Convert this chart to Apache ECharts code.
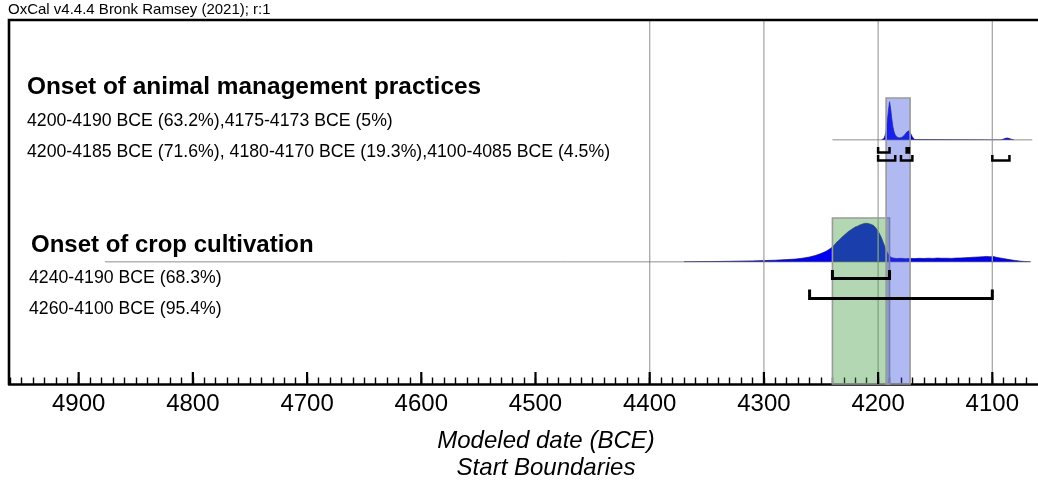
<!DOCTYPE html>
<html>
<head>
<meta charset="utf-8">
<script src="https://cdn.jsdelivr.net/npm/echarts@6/dist/echarts.min.js"></script>
<style>
  html, body { margin: 0; padding: 0; background: #ffffff; }
  #chart { width: 1038px; height: 483px; }
</style>
</head>
<body>
<div id="chart"></div>
<script>
// ---- Time axis (years BCE, older dates on the left) ----
const axisMinYear = 4060;
const axisMaxYear = 4961;
const majorTickYears = [4100, 4200, 4300, 4400, 4500, 4600, 4700, 4800, 4900];
const gridYears = [4400, 4300, 4200, 4100];

// ---- Onset of animal management practices: modelled probability density ----
const animalYears = [4197, 4196, 4195, 4194, 4193, 4192, 4191, 4190, 4189, 4188, 4187, 4186, 4185,
  4184, 4183, 4182, 4181, 4180, 4179, 4178, 4177, 4176, 4175, 4174, 4173, 4172, 4171, 4170, 4169,
  4168, 4167, 4093, 4091, 4089, 4087, 4085, 4083, 4081];
const animalDensity = [0, 0.5, 1.5, 4, 9, 18, 29, 38, 31, 21, 13, 8, 5,
  3.5, 2.6, 2.2, 2.1, 2.3, 2.8, 3.6, 4.8, 6.3, 7.8, 8.8, 9.2, 8, 5.5, 3, 1.3,
  0.4, 0, 0, 0.6, 1.5, 2, 1.5, 0.6, 0];
const animalSupport = [4240, 4065];
const animalSpan = [4193, 4172];
const animalRange68 = [[4200, 4190], [4175, 4173]];
const animalRange95 = [[4200, 4185], [4180, 4170], [4100, 4085]];

// ---- Onset of crop cultivation: modelled probability density ----
const cropYears = [4370, 4350, 4330, 4310, 4300, 4290, 4280, 4272, 4265, 4260, 4255, 4250, 4246,
  4243, 4240, 4238, 4236, 4234, 4232, 4230, 4228, 4226, 4224, 4222, 4220, 4218, 4216, 4215, 4214,
  4213, 4212, 4211, 4210, 4209, 4208, 4207, 4206, 4205, 4204, 4203, 4202, 4201, 4200, 4199, 4198,
  4197, 4196, 4195, 4194, 4193, 4192, 4191, 4190, 4189, 4188, 4186, 4184, 4180, 4176, 4172, 4168,
  4164, 4160, 4156, 4152, 4148, 4144, 4140, 4136, 4132, 4128, 4124, 4120, 4116, 4112, 4108, 4105,
  4102, 4099, 4096, 4092, 4088, 4084, 4080, 4076, 4072, 4068, 4066];
const cropDensity = [0.2, 0.4, 0.7, 1.1, 1.4, 1.8, 2.4, 3.0, 4.0, 5.0, 6.5, 8.5, 10.5,
  12.5, 15, 17.5, 20, 22, 24.5, 26.5, 28.5, 30.5, 32, 33.5, 35, 35.8, 37, 36.6, 37.8,
  37.3, 38.6, 37.9, 38.7, 37.8, 38.2, 37.4, 37.6, 36.3, 36.5, 35, 34, 32.3, 30.8, 28.8, 26.5,
  24, 21, 18, 15, 12, 9.5, 7.5, 6, 5, 4.3, 3.8, 3.5, 3.7, 3.3, 3.6, 3.4,
  3.7, 3.5, 3.8, 3.6, 3.9, 3.7, 3.8, 3.6, 3.9, 4.0, 4.2, 4.5, 4.8, 5.0, 5.3, 5.6,
  5.2, 5.4, 4.6, 3.8, 3.0, 2.2, 1.5, 0.9, 0.5, 0.2, 0];
const cropSupport = [4877, 4067];
const cropSpan = [4240, 4190];
const cropRange68 = [[4240, 4190]];
const cropRange95 = [[4260, 4100]];

// ---- Text ----
const headerText = 'OxCal v4.4.4 Bronk Ramsey (2021); r:1';
const animalTitle = 'Onset of animal management practices';
const animalText68 = '4200-4190 BCE (63.2%),4175-4173 BCE (5%)';
const animalText95 = '4200-4185 BCE (71.6%), 4180-4170 BCE (19.3%),4100-4085 BCE (4.5%)';
const cropTitle = 'Onset of crop cultivation';
const cropText68 = '4240-4190 BCE (68.3%)';
const cropText95 = '4260-4100 BCE (95.4%)';
const axisTitle1 = 'Modeled date (BCE)';
const axisTitle2 = 'Start Boundaries';

// ---- Layout ----
const FONT = '"Liberation Sans", Arial, Helvetica, sans-serif';
const W = 1038, H = 483;
const PLOT = { left: 9, right: 0, top: 20, bottom: 99 };
const AXIS_Y = H - PLOT.bottom;
const ANIMAL_ROW = { top: 98, height: 42, yMax: 41.7 };
const CROP_ROW = { top: 218, height: 44, yMax: 44 };
const ANIMAL_BRACKETS = [{ top: 147, bottom: 152.5, width: 2.5 }, { top: 155, bottom: 160.5, width: 2.5 }];
const CROP_BRACKETS = [{ top: 270, bottom: 278.5, width: 3 }, { top: 289.5, bottom: 298.5, width: 3 }];

const zip = (xs, ys) => xs.map((x, i) => [x, ys[i]]);
const pairs = list => list.map(r => [r[0], r[1]]);

function timeAxis(gridIndex, visible) {
  return {
    type: 'value', gridIndex, inverse: true, min: axisMinYear, max: axisMaxYear,
    interval: 10, show: visible,
    axisLine: { show: visible, lineStyle: { color: '#000', width: 2.6 } },
    axisTick: { show: visible, inside: true, length: 6.5, lineStyle: { color: '#000', width: 1.4 } },
    axisLabel: {
      show: visible, margin: 8, color: '#000', fontFamily: FONT, fontSize: 24,
      showMinLabel: false, showMaxLabel: false,
      formatter: v => (v % 100 === 0 ? String(v) : '')
    },
    splitLine: { show: false }
  };
}

function densitySeries(idx, years, dens) {
  return {
    type: 'line', xAxisIndex: idx, yAxisIndex: idx, data: zip(years, dens),
    symbol: 'none', smooth: false, silent: true, z: 2,
    lineStyle: { color: '#101070', width: 0.7 },
    areaStyle: { color: '#0000f2', opacity: 1 }
  };
}

function baselineSeries(idx, support) {
  return {
    type: 'line', xAxisIndex: idx, yAxisIndex: idx, data: [[support[0], 0], [support[1], 0]],
    symbol: 'none', silent: true, z: 4,
    lineStyle: { color: '#6a6a6a', width: 1 }
  };
}

function boxSeries(span, topPx, fill) {
  return {
    type: 'custom', xAxisIndex: 0, yAxisIndex: 0, data: [[span[0], span[1]]], z: 5, silent: true,
    renderItem: (params, api) => {
      const a = api.coord([api.value(0), 0]);
      const b = api.coord([api.value(1), 0]);
      return {
        type: 'rect',
        shape: { x: Math.min(a[0], b[0]), y: topPx, width: Math.abs(b[0] - a[0]), height: a[1] - topPx },
        style: { fill, stroke: '#9a9a9a', lineWidth: 1.6 }
      };
    }
  };
}

function bracketSeries(ranges, row) {
  return {
    type: 'custom', xAxisIndex: 0, yAxisIndex: 0, data: pairs(ranges), z: 7, silent: true,
    renderItem: (params, api) => {
      const x1 = api.coord([api.value(0), 0])[0];
      const x2 = api.coord([api.value(1), 0])[0];
      return {
        type: 'polyline',
        shape: { points: [[x1, row.top], [x1, row.bottom], [x2, row.bottom], [x2, row.top]] },
        style: { stroke: '#000', fill: null, lineWidth: row.width, lineJoin: 'miter', lineCap: 'butt' }
      };
    }
  };
}

const gridLineSeries = {
  type: 'custom', xAxisIndex: 0, yAxisIndex: 0, data: gridYears.map(v => [v, 0]), z: 4, silent: true,
  renderItem: (params, api) => {
    const p0 = api.coord([api.value(0), 0]);
    const p1 = api.coord([api.value(0), 1]);
    return { type: 'line', shape: { x1: p0[0], y1: p0[1], x2: p1[0], y2: p1[1] },
             style: { stroke: '#a8a8a8', lineWidth: 1.3 } };
  }
};

const majorTickSeries = {
  type: 'custom', xAxisIndex: 0, yAxisIndex: 0, data: majorTickYears.map(v => [v, 0]), z: 8, silent: true,
  renderItem: (params, api) => {
    const p = api.coord([api.value(0), 0]);
    return { type: 'line', shape: { x1: p[0], y1: p[1], x2: p[0], y2: p[1] - 12 },
             style: { stroke: '#000', lineWidth: 2.2 } };
  }
};

function text(str, x, y, font, align) {
  return {
    type: 'text', x, y, silent: true, z: 10,
    style: { text: str, font, fill: '#000', align: align || 'left', textAlign: align || 'left',
             verticalAlign: 'middle', textVerticalAlign: 'middle' }
  };
}

const chart = echarts.init(document.getElementById('chart'), null, { renderer: 'canvas' });
chart.setOption({
  backgroundColor: '#ffffff',
  animation: false,
  grid: [
    { left: PLOT.left, right: PLOT.right, top: PLOT.top, bottom: PLOT.bottom },
    { left: PLOT.left, right: PLOT.right, top: ANIMAL_ROW.top, height: ANIMAL_ROW.height },
    { left: PLOT.left, right: PLOT.right, top: CROP_ROW.top, height: CROP_ROW.height }
  ],
  xAxis: [timeAxis(0, true), timeAxis(1, false), timeAxis(2, false)],
  yAxis: [
    { type: 'value', gridIndex: 0, min: 0, max: 1, show: false },
    { type: 'value', gridIndex: 1, min: 0, max: ANIMAL_ROW.yMax, show: false },
    { type: 'value', gridIndex: 2, min: 0, max: CROP_ROW.yMax, show: false }
  ],
  series: [
    densitySeries(1, animalYears, animalDensity),
    baselineSeries(1, animalSupport),
    densitySeries(2, cropYears, cropDensity),
    baselineSeries(2, cropSupport),
    gridLineSeries,
    boxSeries(cropSpan, CROP_ROW.top, 'rgba(64,156,64,0.40)'),
    boxSeries(animalSpan, ANIMAL_ROW.top, 'rgba(60,80,225,0.40)'),
    bracketSeries(animalRange68, ANIMAL_BRACKETS[0]),
    bracketSeries(animalRange95, ANIMAL_BRACKETS[1]),
    bracketSeries(cropRange68, CROP_BRACKETS[0]),
    bracketSeries(cropRange95, CROP_BRACKETS[1]),
    majorTickSeries
  ],
  graphic: [
    { type: 'polyline', silent: true, z: 9,
      shape: { points: [[PLOT.left, AXIS_Y], [PLOT.left, PLOT.top], [W, PLOT.top]] },
      style: { stroke: '#000', lineWidth: 2.6, fill: null } },
    text(headerText, 8, 10, '15px ' + FONT),
    text(animalTitle, 27, 87, 'bold 24.4px ' + FONT),
    text(animalText68, 27, 121, '17.7px ' + FONT),
    text(animalText95, 27, 152, '17.7px ' + FONT),
    text(cropTitle, 31, 245, 'bold 24px ' + FONT),
    text(cropText68, 29, 278, '17.7px ' + FONT),
    text(cropText95, 29, 309, '17.7px ' + FONT),
    text(axisTitle1, 546, 441, 'italic 24px ' + FONT, 'center'),
    text(axisTitle2, 546, 468, 'italic 24px ' + FONT, 'center')
  ]
});
</script>
</body>
</html>
